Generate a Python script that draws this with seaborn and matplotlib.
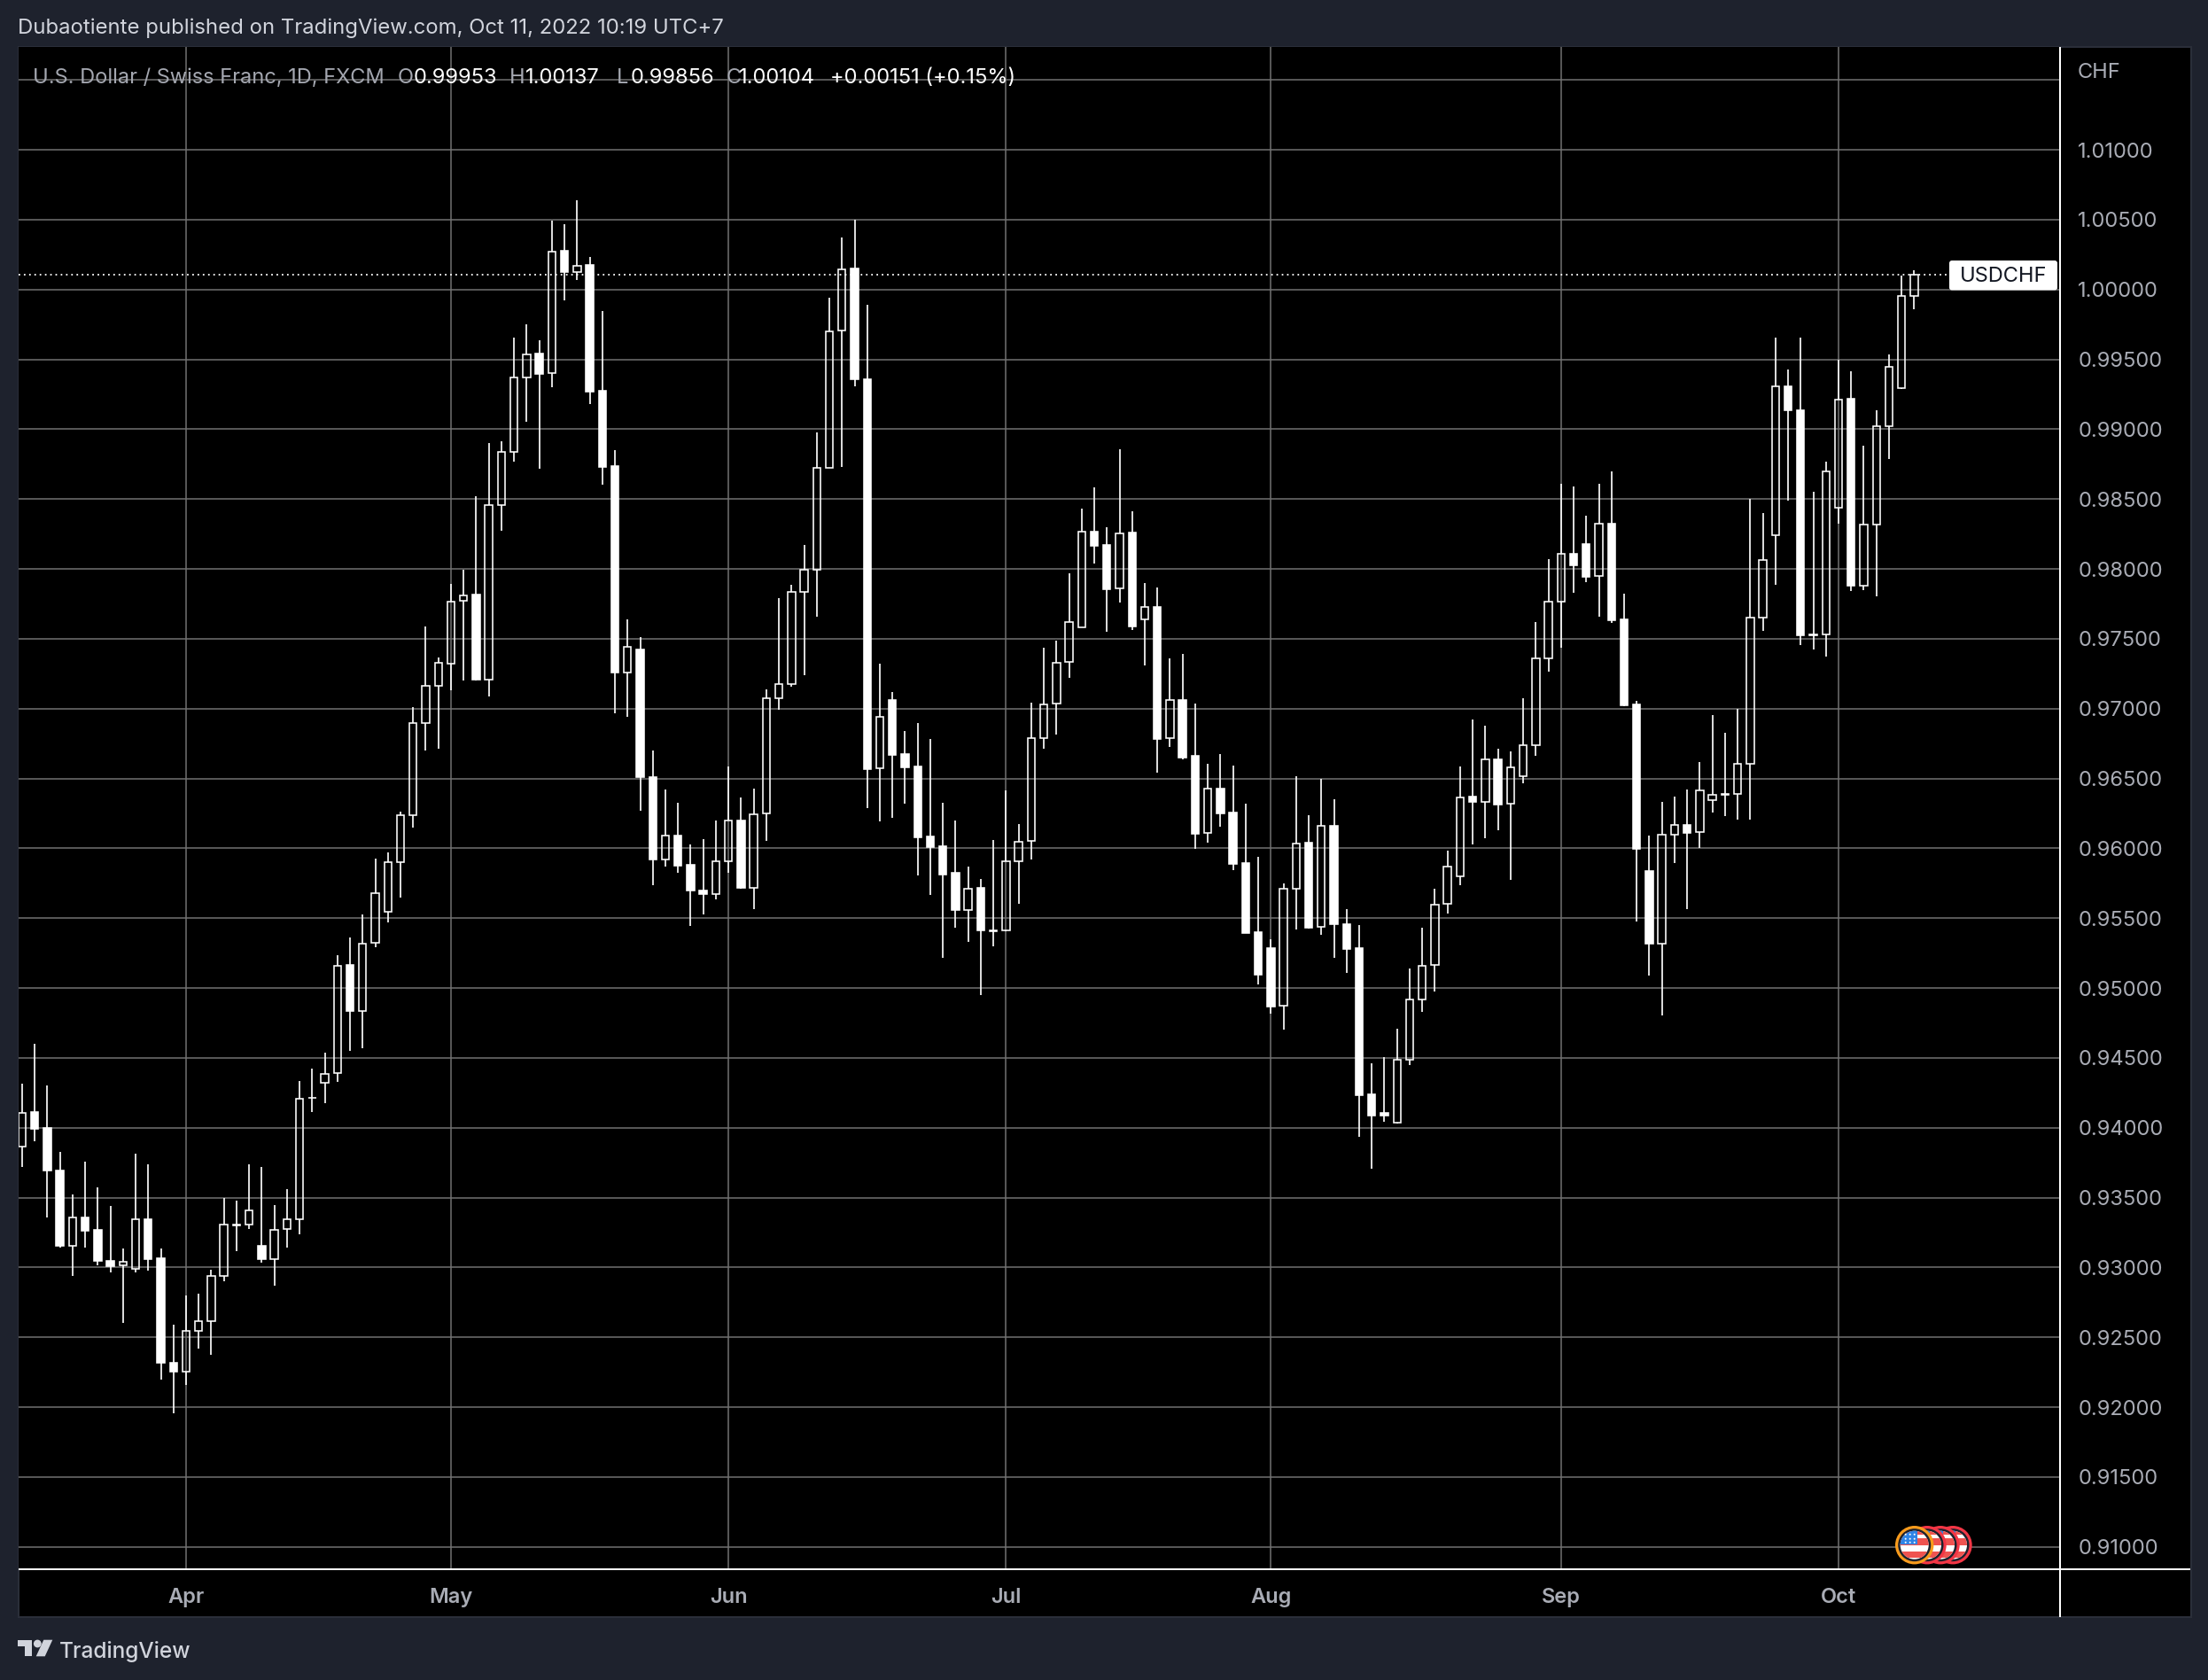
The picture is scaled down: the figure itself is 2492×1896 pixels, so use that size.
import matplotlib

matplotlib.use("Agg")
import matplotlib.pyplot as plt
import numpy as np
import pandas as pd
import seaborn as sns
from matplotlib.patches import Circle, FancyBboxPatch, Polygon, Rectangle

W, H = 2492, 1896
PX = 0.72  # one pixel in points at dpi 100

opens = [
    0.93862, 0.94110, 0.94000, 0.93692, 0.93157, 0.93355, 0.93268, 0.93044, 0.93012, 0.92987,
    0.93343, 0.93065, 0.92315, 0.92252, 0.92543, 0.92618, 0.92937, 0.93310, 0.93310, 0.93152,
    0.93062, 0.93273, 0.93348, 0.94216, 0.94319, 0.94389, 0.95164, 0.94838, 0.95324, 0.95546,
    0.95899, 0.96238, 0.96896, 0.97164, 0.97323, 0.97769, 0.97814, 0.97207, 0.98459, 0.98840,
    0.99372, 0.99540, 0.99399, 1.00275, 1.00124, 1.00174, 0.99274, 0.98735, 0.97260, 0.97423,
    0.96507, 0.95923, 0.96091, 0.95882, 0.95700, 0.95674, 0.95908, 0.96202, 0.95719, 0.96247,
    0.97077, 0.97177, 0.97836, 0.97996, 0.98726, 0.99705, 1.00151, 0.99355, 0.96571, 0.97062,
    0.96675, 0.96586, 0.96083, 0.96012, 0.95823, 0.95558, 0.95715, 0.95413, 0.95410, 0.95908,
    0.96050, 0.96790, 0.97034, 0.97334, 0.97582, 0.98269, 0.98172, 0.97858, 0.98260, 0.97637,
    0.97730, 0.96787, 0.97063, 0.96659, 0.96112, 0.96429, 0.96257, 0.95896, 0.95401, 0.95288,
    0.94871, 0.95710, 0.96042, 0.95436, 0.96164, 0.95460, 0.95286, 0.94239, 0.94109, 0.94039,
    0.94488, 0.94921, 0.95163, 0.95600, 0.95802, 0.96371, 0.96335, 0.96636, 0.96317, 0.96518,
    0.96736, 0.97358, 0.97765, 0.98111, 0.98180, 0.97949, 0.98325, 0.97641, 0.97033, 0.95840,
    0.95318, 0.96099, 0.96170, 0.96115, 0.96343, 0.96387, 0.96390, 0.96607, 0.97650, 0.98240,
    0.99308, 0.99133, 0.97532, 0.97530, 0.98441, 0.99215, 0.97881, 0.98319, 0.99023, 0.99291,
    0.99953,
]
closes = [
    0.94108, 0.93995, 0.93692, 0.93157, 0.93355, 0.93263, 0.93044, 0.93009, 0.93039, 0.93343,
    0.93062, 0.92315, 0.92252, 0.92543, 0.92618, 0.92937, 0.93305, 0.93303, 0.93411, 0.93062,
    0.93270, 0.93348, 0.94206, 0.94211, 0.94386, 0.95161, 0.94838, 0.95319, 0.95677, 0.95899,
    0.96238, 0.96896, 0.97164, 0.97329, 0.97767, 0.97812, 0.97207, 0.98459, 0.98838, 0.99372,
    0.99535, 0.99397, 1.00272, 1.00124, 1.00172, 0.99269, 0.98730, 0.97258, 0.97443, 0.96507,
    0.95923, 0.96091, 0.95875, 0.95700, 0.95674, 0.95908, 0.96199, 0.95715, 0.96243, 0.97077,
    0.97174, 0.97836, 0.97996, 0.98726, 0.99701, 1.00144, 0.99355, 0.96567, 0.96943, 0.96668,
    0.96578, 0.96076, 0.96009, 0.95815, 0.95558, 0.95711, 0.95410, 0.95407, 0.95908, 0.96046,
    0.96790, 0.97029, 0.97330, 0.97619, 0.98266, 0.98167, 0.97855, 0.98257, 0.97590, 0.97727,
    0.96784, 0.97060, 0.96650, 0.96106, 0.96426, 0.96251, 0.95890, 0.95395, 0.95093, 0.94868,
    0.95710, 0.96036, 0.95433, 0.96158, 0.95454, 0.95282, 0.94232, 0.94087, 0.94089, 0.94488,
    0.94921, 0.95161, 0.95598, 0.95868, 0.96366, 0.96332, 0.96634, 0.96314, 0.96582, 0.96736,
    0.97360, 0.97765, 0.98105, 0.98028, 0.97946, 0.98323, 0.97635, 0.97025, 0.95994, 0.95315,
    0.96099, 0.96167, 0.96112, 0.96412, 0.96382, 0.96382, 0.96604, 0.97649, 0.98065, 0.99308,
    0.99133, 0.97525, 0.97525, 0.98697, 0.99213, 0.97877, 0.98319, 0.99023, 0.99448, 0.99953,
    1.00104,
]
highs = [
    0.94314, 0.94602, 0.94301, 0.93824, 0.93521, 0.93757, 0.93574, 0.93441, 0.93135, 0.93812,
    0.93737, 0.93135, 0.92590, 0.92801, 0.92814, 0.92984, 0.93496, 0.93478, 0.93737, 0.93719,
    0.93446, 0.93559, 0.94334, 0.94421, 0.94537, 0.95234, 0.95359, 0.95525, 0.95929, 0.95971,
    0.96263, 0.97012, 0.97586, 0.97367, 0.97890, 0.97992, 0.98519, 0.98898, 0.98915, 0.99653,
    0.99748, 0.99635, 1.00490, 1.00465, 1.00636, 1.00230, 0.99843, 0.98848, 0.97636, 0.97512,
    0.96697, 0.96418, 0.96325, 0.96027, 0.96065, 0.96199, 0.96586, 0.96362, 0.96426, 0.97140,
    0.97792, 0.97885, 0.98171, 0.98975, 0.99939, 1.00371, 1.00497, 0.99891, 0.97319, 0.97118,
    0.96839, 0.96895, 0.96783, 0.96325, 0.96199, 0.95867, 0.95778, 0.96057, 0.96414, 0.96173,
    0.97040, 0.97434, 0.97488, 0.97969, 0.98432, 0.98586, 0.98301, 0.98857, 0.98414, 0.97899,
    0.97867, 0.97360, 0.97392, 0.97037, 0.96606, 0.96676, 0.96595, 0.96321, 0.95940, 0.95346,
    0.95748, 0.96519, 0.96234, 0.96499, 0.96353, 0.95567, 0.95451, 0.94461, 0.94504, 0.94708,
    0.95140, 0.95431, 0.95712, 0.95983, 0.96586, 0.96922, 0.96879, 0.96713, 0.96695, 0.97076,
    0.97622, 0.98072, 0.98606, 0.98592, 0.98378, 0.98611, 0.98699, 0.97825, 0.97058, 0.96093,
    0.96335, 0.96368, 0.96423, 0.96615, 0.96956, 0.96824, 0.97000, 0.98504, 0.98397, 0.99653,
    0.99427, 0.99653, 0.98555, 0.98765, 0.99497, 0.99414, 0.98885, 0.99133, 0.99533, 1.00099,
    1.00137,
]
lows = [
    0.93717, 0.93900, 0.93360, 0.93145, 0.92942, 0.93145, 0.93012, 0.92967, 0.92606, 0.92962,
    0.92979, 0.92199, 0.91953, 0.92157, 0.92422, 0.92377, 0.92904, 0.93115, 0.93273, 0.93037,
    0.92871, 0.93145, 0.93240, 0.94110, 0.94173, 0.94326, 0.94547, 0.94572, 0.95289, 0.95467,
    0.95646, 0.96147, 0.96699, 0.96712, 0.97132, 0.97202, 0.97200, 0.97087, 0.98273, 0.98767,
    0.99053, 0.98717, 0.99302, 0.99921, 1.00069, 0.99181, 0.98602, 0.96967, 0.96942, 0.96266,
    0.95733, 0.95867, 0.95823, 0.95443, 0.95525, 0.95633, 0.95823, 0.95711, 0.95562, 0.96053,
    0.96991, 0.97155, 0.97237, 0.97658, 0.98722, 0.98730, 0.99306, 0.96288, 0.96191, 0.96217,
    0.96318, 0.95804, 0.95666, 0.95216, 0.95432, 0.95328, 0.94948, 0.95298, 0.95407, 0.95603,
    0.95923, 0.96712, 0.96816, 0.97221, 0.97579, 0.98039, 0.97552, 0.97759, 0.97564, 0.97311,
    0.96542, 0.96726, 0.96638, 0.95998, 0.96042, 0.96155, 0.95841, 0.95392, 0.95023, 0.94819,
    0.94705, 0.95422, 0.95424, 0.95384, 0.95218, 0.95110, 0.93935, 0.93708, 0.94041, 0.94030,
    0.94447, 0.94828, 0.94975, 0.95533, 0.95736, 0.96029, 0.96072, 0.96128, 0.95775, 0.96466,
    0.96659, 0.97267, 0.97437, 0.97831, 0.97908, 0.97655, 0.97611, 0.97017, 0.95475, 0.95092,
    0.94804, 0.95892, 0.95563, 0.96000, 0.96258, 0.96228, 0.96203, 0.96203, 0.97557, 0.97889,
    0.98490, 0.97456, 0.97424, 0.97373, 0.98325, 0.97843, 0.97847, 0.97805, 0.98786, 0.99289,
    0.99856,
]

month_labels = ["Apr", "May", "Jun", "Jul", "Aug", "Sep", "Oct"]
month_bars = [13, 34, 56, 78, 99, 122, 144]
price_ticks = [0.91 + 0.005 * i for i in range(22)]
last_price = 1.00104

title = "Dubaotiente published on TradingView.com, Oct 11, 2022 10:19 UTC+7"
legend_parts = [
    ("U.S. Dollar / Swiss Franc, 1D, FXCM", 37, "#a4a7b0"),
    ("O", 449, "#a4a7b0"),
    ("0.99953", 467, "white"),
    ("H", 575, "#a4a7b0"),
    ("1.00137", 593, "white"),
    ("L", 696, "#a4a7b0"),
    ("0.99856", 712, "white"),
    ("C", 820, "#a4a7b0"),
    ("1.00104", 834, "white"),
    ("+0.00151 (+0.15%)", 937, "white"),
]

BG = "#1e222d"
EDGE = "#2a2e39"
GRID = "#737373"
LABEL = "#a9acb5"

sns.set_theme(
    style="darkgrid",
    rc={
        "axes.facecolor": "black",
        "axes.edgecolor": "black",
        "figure.facecolor": BG,
        "grid.color": GRID,
        "grid.linewidth": 1.5 * PX,
        "xtick.color": LABEL,
        "ytick.color": LABEL,
    },
)
plt.rcParams["font.family"] = ["Inter", "DejaVu Sans"]

fig = plt.figure(figsize=(W / 100, H / 100), dpi=100)

# pixel canvas below the chart for the panel, another above it for the overlays
back = fig.add_axes([0, 0, 1, 1], zorder=0)
back.set_xlim(0, W)
back.set_ylim(H, 0)
back.axis("off")
back.add_patch(Rectangle((20.5, 53), 2452, 1772, fc="black", ec=EDGE, lw=2 * PX))

ax = fig.add_axes(
    [20.7 / W, 1 - 1771 / H, (2325 - 20.7) / W, (1771 - 53) / H], zorder=1
)
ax.set_xlim(-0.295, 161.56)
ax.set_ylim(1 - (1771 - 326.7) / 15767, 1 + (326.7 - 53) / 15767)

df = pd.DataFrame({"open": opens, "high": highs, "low": lows, "close": closes})
df["bar"] = np.arange(len(df))
df["top"] = df[["open", "close"]].max(axis=1)
df["bottom"] = df[["open", "close"]].min(axis=1)

# wicks stop at the body, the hollow bodies show the grid through them
upper = df.melt(id_vars="bar", value_vars=["high", "top"], value_name="price")
lower = df.melt(id_vars="bar", value_vars=["bottom", "low"], value_name="price")
upper["unit"] = upper["bar"] * 2
lower["unit"] = lower["bar"] * 2 + 1
wicks = pd.concat([upper, lower])
sns.lineplot(
    data=wicks,
    x="bar",
    y="price",
    units="unit",
    estimator=None,
    sort=False,
    color="white",
    linewidth=1.7 * PX,
    solid_capstyle="butt",
    ax=ax,
    zorder=3,
)

falling = df["close"] < df["open"]
for mask, fill in [(falling, "white"), (~falling, "none")]:
    part = df[mask]
    ax.bar(
        part["bar"],
        part["top"] - part["bottom"],
        bottom=part["bottom"],
        width=0.59,
        facecolor=fill,
        edgecolor="white",
        linewidth=1.6 * PX,
        zorder=3,
    )

ax.axhline(
    last_price,
    color="white",
    lw=1.8 * PX,
    ls=(0, (1, 2.3)),
    dash_capstyle="butt",
    zorder=2,
)

ax.set_xlabel("")
ax.set_ylabel("")
ax.set_xticks(month_bars, month_labels, fontsize=17, fontweight="semibold")
ax.yaxis.tick_right()
ax.set_yticks(
    price_ticks,
    [f"{p:.5f}" if p < 1.012 else "" for p in price_ticks],
    fontsize=17,
)
ax.tick_params(axis="x", length=0, pad=15)
ax.tick_params(axis="y", length=0, pad=14.5)
ax.grid(True)
ax.set_axisbelow(True)
for spine in ax.spines.values():
    spine.set_visible(False)

over = fig.add_axes([0, 0, 1, 1], zorder=2)
over.set_xlim(0, W)
over.set_ylim(H, 0)
over.axis("off")
over.patch.set_visible(False)

# axis borders
over.plot([20.7, 2472], [1771, 1771], color="white", lw=2 * PX, solid_capstyle="butt")
over.plot([2325, 2325], [53, 1825], color="white", lw=2 * PX, solid_capstyle="butt")

over.text(20, 32, title, color="#d1d4dc", fontsize=17.2, va="center")
for text, x, color in legend_parts:
    over.text(x, 87.5, text, color=color, fontsize=17, va="center")
over.text(2345, 82, "CHF", color=LABEL, fontsize=17, va="center")

# last price tag
over.add_patch(
    FancyBboxPatch(
        (2203, 297),
        116,
        27.5,
        boxstyle="round,pad=3,rounding_size=3",
        fc="white",
        ec="none",
    )
)
over.text(2261, 311.5, "USDCHF", color="#131722", fontsize=17, ha="center", va="center")


# event flags, back to front
def draw_flag(x, ring):
    y = 1743.7
    over.add_patch(Circle((x, y), 21.7, fc=ring, ec="none"))
    over.add_patch(Circle((x, y), 18.5, fc=BG, ec="none"))
    disc = Circle((x, y), 16, fc="white", ec="none")
    over.add_patch(disc)
    for top, height in [(-16, 4), (-8, 8), (7, 7)]:
        stripe = Rectangle((x - 17, y + top), 34, height, fc="#ef5350", ec="none")
        over.add_patch(stripe)
        stripe.set_clip_path(disc)
    canton = Rectangle((x - 17, y - 17), 20, 16, fc="#2e84e6", ec="none")
    over.add_patch(canton)
    canton.set_clip_path(disc)
    for sx in (-10, -5, 0):
        for sy in (-12, -7, -3):
            over.add_patch(Circle((x + sx, y + sy), 1.0, fc="white", ec="none"))


for flag_x, flag_ring in [
    (2204, "#f23645"),
    (2190, "#f23645"),
    (2175, "#f23645"),
    (2160.7, "#f89b1c"),
]:
    draw_flag(flag_x, flag_ring)

# TradingView logo
logo = "#d1d4dc"
over.add_patch(
    Polygon(
        [(20, 1850.7), (36, 1850.7), (36, 1869.3), (28, 1869.3), (28, 1858.3), (20, 1858.3)],
        fc=logo,
        ec="none",
    )
)
over.add_patch(Circle((42.3, 1855), 4.4, fc=logo, ec="none"))
over.add_patch(
    Polygon(
        [(49.3, 1850.7), (59.3, 1850.7), (50.7, 1869.3), (40.7, 1869.3)],
        fc=logo,
        ec="none",
    )
)
over.text(67, 1863.5, "TradingView", color=logo, fontsize=17.6, fontweight="medium", va="center")

fig.savefig("out.png", dpi=100, facecolor=BG)
